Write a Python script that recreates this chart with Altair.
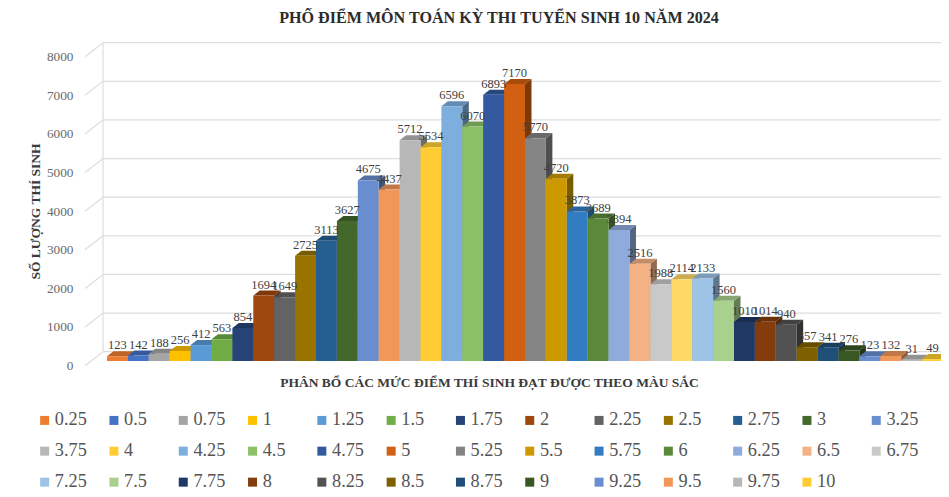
import altair as alt
import pandas as pd

labels = ["0.25","0.5","0.75","1","1.25","1.5","1.75","2","2.25","2.5","2.75","3","3.25","3.5",
          "3.75","4","4.25","4.5","4.75","5","5.25","5.5","5.75","6","6.25","6.5","6.75","7",
          "7.25","7.5","7.75","8","8.25","8.5","8.75","9","9.25","9.5","9.75","10"]
values = [123,142,188,256,412,563,854,1694,1649,2725,3113,3627,4675,4437,
          5712,5534,6596,6070,6893,7170,5770,4720,3873,3689,3394,2516,1988,2114,
          2133,1560,1010,1014,940,357,341,276,123,132,31,49]
colors = ["#ED7D31","#4472C4","#A5A5A5","#FFC000","#5B9BD5","#70AD47","#264478","#9E480E","#636363","#997300","#255E91","#43682B","#698ED0","#F1975A",
          "#B7B7B7","#FFCD33","#7CAFDD","#8CC168","#335AA1","#D26012","#848484","#CC9A00","#327DC2","#5A8A39","#8FAADC","#F4B183","#C9C9C9","#FFD966",
          "#9DC3E6","#A9D18E","#1F3864","#843C0C","#525252","#7F6000","#1F4E79","#385723","#698ED0","#F1975A","#B7B7B7","#FFCD33"]
ticks = [0,1000,2000,3000,4000,5000,6000,7000,8000]

TITLE = "PHỔ ĐIỂM MÔN TOÁN KỲ THI TUYỂN SINH 10 NĂM 2024"
X_TITLE = "PHÂN BỔ CÁC MỨC ĐIỂM THÍ SINH ĐẠT ĐƯỢC THEO MÀU SẮC"
Y_TITLE = "SỐ LƯỢNG THÍ SINH"
FONT = "Liberation Serif"
GRID = "#DEDEDE"

def shade(c, f):
    return "#%02X%02X%02X" % tuple(int(int(c[k:k+2], 16) * f) for k in (1, 3, 5))

df = pd.DataFrame({
    "i": range(len(values)), "label": labels, "value": values,
    "side": [shade(c, .6) for c in colors], "top": [shade(c, .8) for c in colors],
})
tick_df = pd.DataFrame({"v": ticks})

D = 0.31      # bar depth along x, in bar widths
V = 130       # bar depth along y, in value units
xs = alt.Scale(domain=[0, 39.904], nice=False, zero=False)
ys = alt.Scale(domain=[0, 8000], nice=False, zero=False)

x_axis = alt.Axis(
    title=X_TITLE, labels=False, ticks=False, domain=False, grid=False,
    titleFont=FONT, titleFontSize=13.5, titleFontWeight="bold", titleColor="#3A3A3A",
    titleX=382, titleY=14)
y_axis = alt.Axis(
    title=Y_TITLE, values=ticks, format="d", ticks=False, domain=False, grid=False,
    labelFont=FONT, labelFontSize=13.3, labelColor="#6A6A6A", labelPadding=34, labelOffset=4.5,
    titleFont=FONT, titleFontSize=13.5, titleFontWeight="bold", titleColor="#3A3A3A",
    titleX=-65, titleY=159)
X = lambda f: alt.X(f, scale=xs, axis=x_axis)
Y = lambda f: alt.Y(f, scale=ys, axis=y_axis)

grid = alt.Chart(tick_df).transform_calculate(y="datum.v+241", x0="-0.19", x1="40.4").mark_rule(
    color=GRID, strokeWidth=1.2).encode(x=X("x0:Q"), x2="x1:Q", y=Y("y:Q"))
wall = alt.Chart(tick_df).transform_filter("datum.v==0").transform_calculate(
    y0="241", y1="8241", x0="-0.19").mark_rule(color=GRID, strokeWidth=1.2).encode(
    x=X("x0:Q"), y=Y("y0:Q"), y2="y1:Q")
diag = alt.Chart(tick_df).transform_calculate(
    xp="[-1.05,-0.19]", yp="[datum.v-122,datum.v+241]").transform_flatten(["xp", "yp"]).mark_line(
    color=GRID, strokeWidth=1.2).encode(x=X("xp:Q"), y=Y("yp:Q"), detail="v:N")

side = alt.Chart(df).transform_calculate(
    xp=f"[datum.i+1,datum.i+1+{D}]",
    yp=f"[datum.value,datum.value+{V}]",
    y2p=f"[0,{V}]").transform_flatten(["xp", "yp", "y2p"]).mark_area(strokeWidth=0).encode(
    x=X("xp:Q"), y=Y("yp:Q"), y2="y2p:Q", detail="i:N",
    fill=alt.Fill("side:N", scale=None))

top = alt.Chart(df).transform_calculate(
    xp=f"[datum.i,datum.i+{D},datum.i+1,datum.i+1+{D}]",
    yp=f"[datum.value,datum.value+{V},datum.value+{V},datum.value+{V}]",
    y2p=f"[datum.value,datum.value,datum.value,datum.value+{V}]").transform_flatten(
    ["xp", "yp", "y2p"]).mark_area(strokeWidth=0).encode(
    x=X("xp:Q"), y=Y("yp:Q"), y2="y2p:Q", detail="i:N",
    fill=alt.Fill("top:N", scale=None))

front = alt.Chart(df).transform_calculate(x1="datum.i+1", y0="0").mark_bar().encode(
    x=X("i:Q"),
    x2="x1:Q",
    y=Y("value:Q"),
    y2="y0:Q",
    color=alt.Color("label:N", sort=None, scale=alt.Scale(domain=labels, range=colors),
        legend=alt.Legend(
            title=None, orient="none", legendX=-71.5, legendY=359, columns=14, direction="horizontal",
            gridAlign="all", symbolLimit=0,
            symbolType="square", symbolSize=81, symbolStrokeWidth=0, symbolOpacity=1,
            labelFont=FONT, labelFontSize=18.3, labelColor="#555555", labelOffset=1, labelLimit=60,
            columnPadding=17.3, rowPadding=12, padding=0)),
)

text = alt.Chart(df).transform_calculate(xc="datum.i+0.5").mark_text(
    font=FONT, fontSize=12.5, color="#404040", baseline="bottom", dy=-4).encode(
    x=X("xc:Q"), y=Y("value:Q"), text="value:Q")

chart = alt.layer(grid, wall, diag, side, top, front, text).properties(
    width=834, height=309,
    padding={"left": 99, "right": 0, "top": 44, "bottom": 136},
    autosize=alt.AutoSizeParams(type="none"),
    background="white",
    title=alt.Title(TITLE, font=FONT, fontSize=16.1, fontWeight="bold", color="#2B2B2B",
                    anchor="middle", dx=-25, offset=14),
).configure_view(stroke=None)

chart.save("out.html", embed_options={"renderer": "svg", "actions": False})
